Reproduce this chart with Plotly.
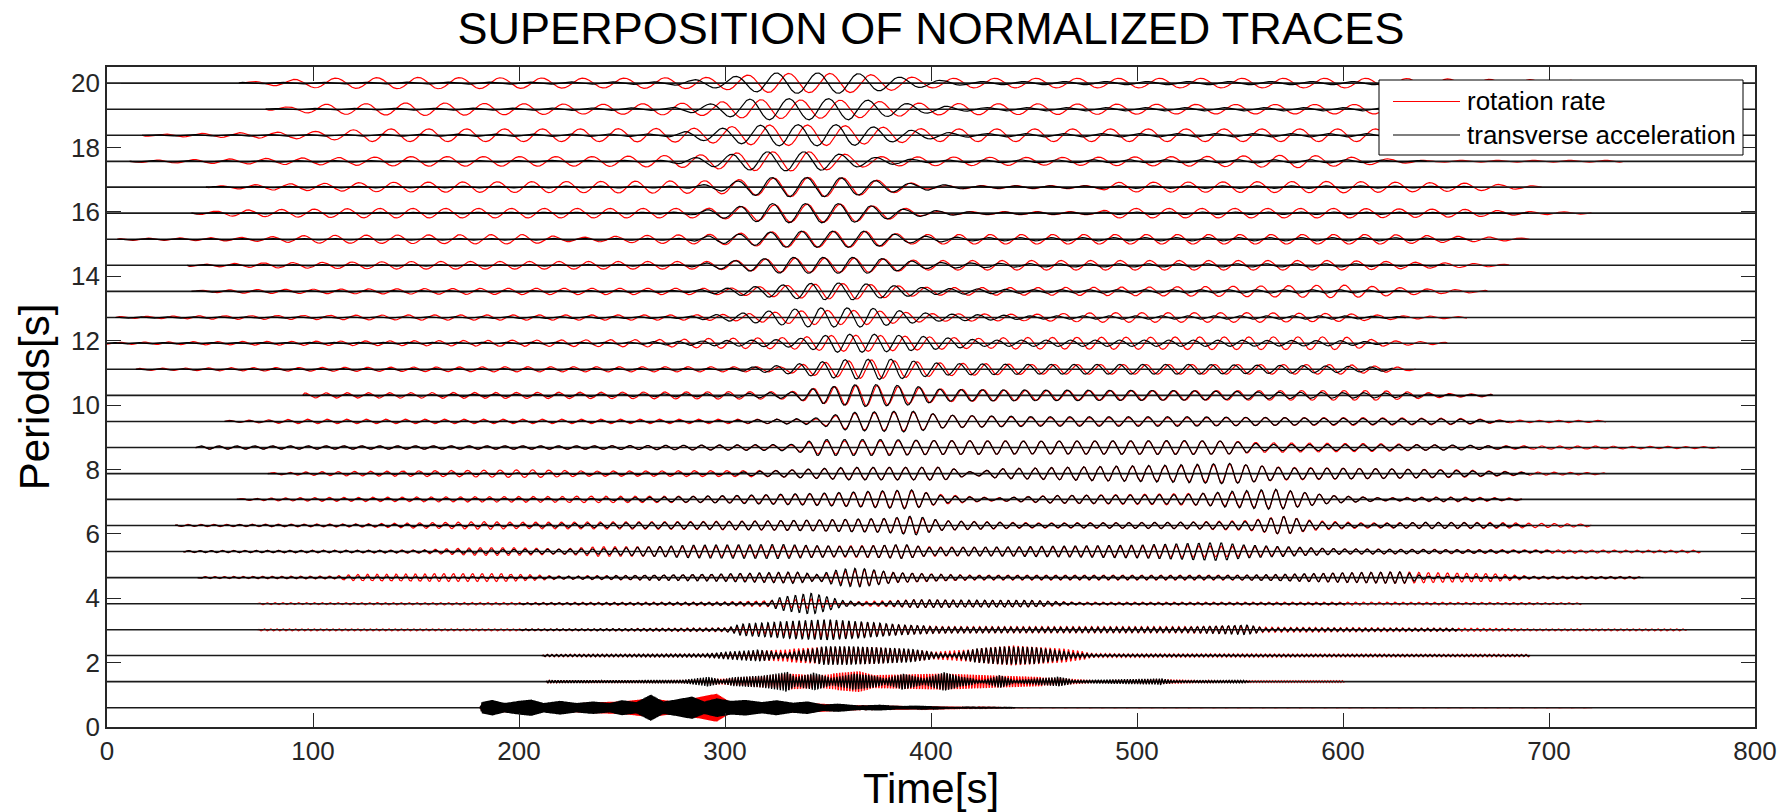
import numpy as np
import plotly.graph_objects as go

# ---------------- data ----------------
periods = [0.6, 1.41, 2.22, 3.02, 3.83, 4.64, 5.45, 6.26, 7.07, 7.87, 8.68, 9.49,
           10.3, 11.11, 11.92, 12.72, 13.53, 14.34, 15.15, 15.96, 16.77, 17.57,
           18.38, 19.19, 20.0]

# envelope key points of each normalized trace: (time [s], half amplitude [y units])
rotation_env = [
    [(181, 0), (182, 0.12), (200, 0.15), (220, 0.12), (240, 0.18), (250, 0.2), (264, 0.3), (275, 0.2), (284, 0.3), (296, 0.45), (302, 0.2), (320, 0.15), (340, 0.15), (360, 0.08), (400, 0.04), (420, 0.02), (440, 0.005), (720, 0.005), (721, 0)],
    [(213, 0), (214, 0.04), (280, 0.05), (300, 0.1), (330, 0.25), (343, 0.2), (365, 0.33), (372, 0.2), (386, 0.22), (406, 0.25), (433, 0.18), (461, 0.12), (480, 0.04), (511, 0.08), (540, 0.03), (600, 0.03), (601, 0)],
    [(211, 0), (212, 0.04), (290, 0.05), (315, 0.15), (348, 0.25), (372, 0.25), (401, 0.12), (420, 0.2), (440, 0.3), (465, 0.2), (480, 0.06), (600, 0.05), (690, 0.04), (691, 0)],
    [(73, 0), (74, 0.03), (230, 0.03), (300, 0.06), (308, 0.1), (334, 0.2), (350, 0.25), (367, 0.22), (386, 0.15), (405, 0.1), (450, 0.1), (523, 0.1), (553, 0.12), (562, 0.08), (655, 0.05), (700, 0.03), (766, 0.03), (767, 0)],
    [(73, 0), (74, 0.03), (200, 0.04), (300, 0.06), (327, 0.1), (342, 0.15), (357, 0.05), (392, 0.12), (420, 0.1), (449, 0.1), (470, 0.05), (600, 0.05), (715, 0.03), (716, 0)],
    [(44, 0), (45, 0.03), (110, 0.05), (121, 0.1), (160, 0.12), (193, 0.12), (220, 0.05), (301, 0.1), (334, 0.15), (345, 0.08), (365, 0.25), (383, 0.15), (420, 0.08), (520, 0.08), (560, 0.08), (603, 0.15), (629, 0.18), (644, 0.15), (673, 0.12), (690, 0.05), (742, 0.04), (745, 0)],
    [(37, 0), (38, 0.03), (150, 0.05), (180, 0.12), (199, 0.12), (220, 0.08), (239, 0.15), (284, 0.15), (328, 0.15), (387, 0.2), (397, 0.15), (440, 0.12), (523, 0.18), (553, 0.15), (600, 0.08), (700, 0.05), (773, 0.04), (774, 0)],
    [(33, 0), (34, 0.03), (120, 0.05), (185, 0.12), (200, 0.1), (276, 0.12), (330, 0.15), (378, 0.2), (390, 0.25), (405, 0.15), (450, 0.08), (520, 0.1), (553, 0.15), (571, 0.28), (586, 0.15), (610, 0.08), (665, 0.1), (720, 0.04), (721, 0)],
    [(63, 0), (64, 0.03), (105, 0.06), (236, 0.1), (303, 0.1), (350, 0.18), (390, 0.28), (405, 0.15), (430, 0.05), (461, 0.12), (523, 0.18), (545, 0.2), (568, 0.3), (594, 0.12), (620, 0.05), (650, 0.08), (686, 0.04), (687, 0)],
    [(78, 0), (79, 0.03), (102, 0.06), (207, 0.12), (236, 0.08), (326, 0.1), (360, 0.18), (406, 0.2), (420, 0.05), (433, 0.15), (480, 0.22), (523, 0.25), (545, 0.3), (571, 0.2), (620, 0.15), (655, 0.12), (690, 0.05), (727, 0.03), (728, 0)],
    [(43, 0), (44, 0.04), (236, 0.05), (332, 0.08), (345, 0.2), (400, 0.22), (450, 0.2), (523, 0.2), (545, 0.2), (562, 0.15), (620, 0.12), (655, 0.06), (782, 0.03), (783, 0)],
    [(57, 0), (58, 0.03), (95, 0.07), (236, 0.07), (343, 0.07), (360, 0.25), (390, 0.3), (406, 0.2), (450, 0.12), (523, 0.12), (600, 0.12), (655, 0.1), (680, 0.04), (727, 0.03), (728, 0)],
    [(95, 0), (96, 0.08), (236, 0.1), (332, 0.12), (347, 0.25), (367, 0.33), (406, 0.2), (450, 0.15), (523, 0.15), (570, 0.15), (618, 0.15), (650, 0.06), (672, 0.04), (673, 0)],
    [(14, 0), (15, 0.03), (60, 0.05), (200, 0.08), (327, 0.08), (345, 0.2), (370, 0.3), (406, 0.2), (450, 0.15), (529, 0.15), (600, 0.15), (624, 0.08), (635, 0.03), (636, 0)],
    [(0, 0.03), (50, 0.05), (150, 0.08), (276, 0.12), (290, 0.15), (332, 0.18), (354, 0.25), (373, 0.25), (425, 0.15), (440, 0.18), (560, 0.2), (600, 0.2), (621, 0.08), (650, 0.03), (651, 0)],
    [(4, 0), (5, 0.03), (42, 0.05), (150, 0.08), (280, 0.08), (304, 0.1), (341, 0.22), (369, 0.22), (401, 0.12), (450, 0.1), (480, 0.15), (560, 0.15), (600, 0.12), (630, 0.05), (660, 0.03), (661, 0)],
    [(41, 0), (42, 0.03), (70, 0.06), (200, 0.1), (301, 0.1), (341, 0.22), (360, 0.25), (401, 0.12), (450, 0.12), (529, 0.15), (600, 0.2), (641, 0.08), (670, 0.03), (671, 0)],
    [(39, 0), (40, 0.03), (78, 0.08), (150, 0.12), (295, 0.12), (328, 0.22), (369, 0.22), (397, 0.15), (529, 0.15), (600, 0.15), (649, 0.08), (680, 0.03), (681, 0)],
    [(5, 0), (6, 0.03), (71, 0.06), (100, 0.12), (200, 0.15), (230, 0.06), (260, 0.12), (291, 0.15), (330, 0.25), (370, 0.25), (388, 0.15), (529, 0.15), (620, 0.15), (663, 0.08), (690, 0.03), (691, 0)],
    [(41, 0), (42, 0.03), (63, 0.1), (130, 0.15), (239, 0.15), (291, 0.15), (330, 0.28), (360, 0.28), (388, 0.15), (400, 0.05), (480, 0.05), (490, 0.15), (600, 0.15), (660, 0.12), (690, 0.05), (720, 0.03), (721, 0)],
    [(48, 0), (49, 0.03), (85, 0.1), (135, 0.15), (239, 0.18), (295, 0.2), (330, 0.3), (355, 0.3), (388, 0.15), (400, 0.05), (480, 0.05), (490, 0.15), (600, 0.18), (663, 0.12), (696, 0.03), (697, 0)],
    [(11, 0), (12, 0.03), (87, 0.1), (150, 0.15), (239, 0.15), (286, 0.2), (317, 0.3), (343, 0.3), (373, 0.15), (450, 0.12), (529, 0.15), (580, 0.2), (607, 0.12), (640, 0.03), (735, 0.03), (736, 0)],
    [(17, 0), (18, 0.03), (102, 0.12), (130, 0.2), (239, 0.2), (286, 0.22), (320, 0.32), (350, 0.32), (397, 0.2), (529, 0.2), (620, 0.2), (700, 0.1), (760, 0.03), (761, 0)],
    [(77, 0), (78, 0.03), (104, 0.15), (150, 0.2), (239, 0.15), (291, 0.2), (314, 0.3), (360, 0.28), (399, 0.18), (529, 0.15), (620, 0.15), (700, 0.1), (760, 0.03), (761, 0)],
    [(64, 0), (65, 0.03), (102, 0.15), (150, 0.18), (239, 0.15), (295, 0.18), (323, 0.3), (360, 0.3), (401, 0.15), (529, 0.15), (620, 0.15), (700, 0.1), (760, 0.03), (761, 0)],
]

acceleration_env = [
    [(181, 0), (182, 0.18), (187, 0.25), (193, 0.15), (200, 0.22), (206, 0.26), (212, 0.15), (220, 0.22), (228, 0.15), (236, 0.2), (244, 0.15), (250, 0.24), (257, 0.18), (264, 0.42), (270, 0.2), (276, 0.26), (284, 0.36), (290, 0.2), (296, 0.3), (303, 0.22), (310, 0.25), (318, 0.18), (325, 0.24), (333, 0.16), (340, 0.2), (348, 0.1), (355, 0.13), (365, 0.07), (375, 0.09), (385, 0.05), (395, 0.06), (410, 0.02), (440, 0.01), (441, 0)],
    [(213, 0), (214, 0.05), (240, 0.04), (280, 0.06), (291, 0.15), (298, 0.06), (304, 0.15), (318, 0.2), (330, 0.32), (334, 0.15), (343, 0.28), (351, 0.12), (362, 0.25), (372, 0.18), (377, 0.1), (386, 0.25), (396, 0.1), (406, 0.3), (414, 0.15), (425, 0.05), (433, 0.2), (440, 0.05), (461, 0.15), (470, 0.05), (511, 0.1), (520, 0.03), (552, 0.04), (555, 0)],
    [(211, 0), (212, 0.03), (290, 0.05), (300, 0.12), (315, 0.18), (329, 0.08), (335, 0.15), (348, 0.28), (360, 0.28), (372, 0.25), (390, 0.2), (401, 0.1), (410, 0.05), (420, 0.2), (435, 0.27), (450, 0.25), (468, 0.1), (480, 0.04), (550, 0.03), (690, 0.02), (691, 0)],
    [(200, 0), (201, 0.02), (300, 0.05), (308, 0.18), (320, 0.22), (334, 0.28), (350, 0.32), (367, 0.25), (386, 0.15), (405, 0.1), (450, 0.08), (523, 0.08), (553, 0.15), (562, 0.05), (655, 0.04), (656, 0)],
    [(200, 0), (201, 0.02), (320, 0.05), (327, 0.2), (342, 0.33), (357, 0.1), (370, 0.03), (392, 0.12), (449, 0.1), (470, 0.03), (600, 0.02), (601, 0)],
    [(44, 0), (45, 0.02), (200, 0.03), (250, 0.06), (301, 0.12), (334, 0.18), (345, 0.1), (355, 0.25), (365, 0.3), (383, 0.15), (420, 0.06), (540, 0.06), (603, 0.15), (629, 0.18), (640, 0.04), (745, 0.02), (746, 0)],
    [(37, 0), (38, 0.03), (150, 0.04), (239, 0.08), (284, 0.2), (328, 0.22), (360, 0.15), (387, 0.22), (400, 0.12), (440, 0.15), (500, 0.2), (540, 0.28), (553, 0.2), (600, 0.08), (700, 0.03), (701, 0)],
    [(33, 0), (34, 0.02), (200, 0.04), (276, 0.1), (330, 0.15), (378, 0.22), (392, 0.3), (405, 0.15), (450, 0.06), (553, 0.12), (571, 0.28), (586, 0.12), (610, 0.05), (640, 0.1), (665, 0.08), (690, 0.02), (691, 0)],
    [(63, 0), (64, 0.02), (236, 0.03), (303, 0.12), (350, 0.2), (390, 0.3), (405, 0.12), (430, 0.04), (461, 0.12), (523, 0.15), (545, 0.25), (568, 0.32), (594, 0.12), (620, 0.04), (650, 0.06), (686, 0.02), (687, 0)],
    [(78, 0), (79, 0.02), (300, 0.03), (326, 0.1), (360, 0.2), (406, 0.2), (420, 0.05), (433, 0.15), (480, 0.22), (523, 0.28), (545, 0.32), (571, 0.18), (620, 0.15), (655, 0.1), (690, 0.03), (691, 0)],
    [(43, 0), (44, 0.05), (236, 0.05), (332, 0.1), (345, 0.25), (380, 0.25), (400, 0.22), (450, 0.2), (523, 0.22), (545, 0.2), (562, 0.1), (655, 0.08), (690, 0.02), (691, 0)],
    [(57, 0), (58, 0.02), (300, 0.03), (343, 0.1), (360, 0.28), (390, 0.33), (406, 0.2), (450, 0.15), (523, 0.15), (600, 0.1), (655, 0.08), (680, 0.02), (681, 0)],
    [(95, 0), (96, 0.02), (300, 0.05), (332, 0.1), (347, 0.25), (367, 0.35), (390, 0.3), (406, 0.18), (523, 0.15), (570, 0.1), (618, 0.08), (650, 0.03), (672, 0.02), (673, 0)],
    [(14, 0), (15, 0.02), (300, 0.03), (327, 0.12), (358, 0.3), (380, 0.32), (406, 0.18), (450, 0.15), (529, 0.15), (600, 0.1), (624, 0.05), (625, 0)],
    [(0, 0.02), (250, 0.03), (332, 0.12), (354, 0.28), (373, 0.28), (400, 0.2), (425, 0.1), (529, 0.1), (600, 0.08), (621, 0.03), (622, 0)],
    [(4, 0), (5, 0.02), (280, 0.03), (304, 0.12), (341, 0.3), (369, 0.3), (401, 0.12), (450, 0.05), (529, 0.05), (600, 0.05), (630, 0.02), (631, 0)],
    [(41, 0), (42, 0.02), (280, 0.03), (301, 0.1), (341, 0.25), (360, 0.27), (401, 0.1), (450, 0.05), (600, 0.05), (641, 0.02), (642, 0)],
    [(39, 0), (40, 0.02), (280, 0.03), (295, 0.1), (328, 0.25), (369, 0.25), (397, 0.1), (450, 0.05), (600, 0.05), (649, 0.02), (650, 0)],
    [(5, 0), (6, 0.02), (280, 0.03), (291, 0.1), (330, 0.25), (370, 0.25), (388, 0.12), (420, 0.05), (620, 0.05), (663, 0.02), (664, 0)],
    [(41, 0), (42, 0.02), (280, 0.03), (291, 0.1), (320, 0.3), (360, 0.3), (388, 0.12), (420, 0.04), (600, 0.04), (690, 0.02), (691, 0)],
    [(48, 0), (49, 0.02), (280, 0.03), (295, 0.1), (320, 0.3), (355, 0.3), (388, 0.12), (420, 0.04), (600, 0.04), (663, 0.02), (664, 0)],
    [(11, 0), (12, 0.02), (270, 0.03), (286, 0.12), (317, 0.3), (343, 0.3), (373, 0.12), (400, 0.04), (600, 0.05), (640, 0.02), (641, 0)],
    [(17, 0), (18, 0.02), (270, 0.04), (286, 0.15), (320, 0.33), (360, 0.33), (397, 0.12), (420, 0.05), (620, 0.05), (700, 0.02), (701, 0)],
    [(77, 0), (78, 0.02), (270, 0.04), (291, 0.15), (314, 0.33), (360, 0.33), (399, 0.12), (420, 0.05), (620, 0.05), (700, 0.02), (701, 0)],
    [(64, 0), (65, 0.02), (270, 0.04), (295, 0.15), (323, 0.32), (360, 0.32), (401, 0.1), (420, 0.05), (620, 0.05), (700, 0.02), (701, 0)],
]

# lag of the rotation-rate trace behind the acceleration trace (fraction of a period)
rotation_lag = [0, 0, 0, 0, 0, 0, 0, 0, 0, 0, 0, 0, 0.05, 0.15, 0.25, 0.25, 0.15,
                0.05, 0.05, 0.05, 0.05, 0.15, 0.25, 0.3, 0.3]

x_ticks = [0, 100, 200, 300, 400, 500, 600, 700, 800]
y_ticks = [0, 2, 4, 6, 8, 10, 12, 14, 16, 18, 20]
series_names = ["rotation rate", "transverse acceleration"]
series_colors = ["#ff0000", "#000000"]
title_text = "SUPERPOSITION OF NORMALIZED TRACES"


# ---------------- build the traces ----------------
def band_signal(period, env, lag):
    tk = np.array([p[0] for p in env], dtype=float)
    ak = np.array([p[1] for p in env], dtype=float)
    per = 12 if period >= 2 else 8
    t = np.arange(tk[0], tk[-1] + 1e-9, period / per)
    amp = np.interp(t, tk, ak)
    return t, period + amp * np.sin(2 * np.pi * (t / period - lag))


def stack(envs, lags):
    xs, ys = [], []
    for P, env, lag in zip(periods, envs, lags):
        t, y = band_signal(P, env, lag)
        xs += [t, [np.nan]]
        ys += [y, [np.nan]]
    return np.concatenate(xs), np.concatenate(ys)


rx, ry = stack(rotation_env, rotation_lag)
ax_, ay_ = stack(acceleration_env, [0] * len(periods))

bx, by = [], []
for P in periods:
    bx += [x_ticks[0], x_ticks[-1], None]
    by += [P, P, None]

fig = go.Figure()
fig.add_trace(go.Scatter(x=rx, y=ry, mode="lines", name=series_names[0],
                         line=dict(color=series_colors[0], width=1.2), showlegend=False))
fig.add_trace(go.Scatter(x=bx, y=by, mode="lines", line=dict(color="#1a1a1a", width=1.6),
                         showlegend=False, hoverinfo="skip"))
fig.add_trace(go.Scatter(x=ax_, y=ay_, mode="lines", name=series_names[1],
                         line=dict(color=series_colors[1], width=1.2), showlegend=False))

font_family = "Liberation Sans, Arial, Helvetica, sans-serif"
axis_common = dict(
    showgrid=False, zeroline=False, showline=True, linecolor="#262626", linewidth=1.6,
    mirror="ticks", ticks="inside", ticklen=14, tickwidth=1.4, tickcolor="#262626",
    tickfont=dict(family=font_family, size=26, color="#262626"),
)

# plot-area geometry (px) used to place the boxed legend
L, R, T, B = 107, 35, 67, 85
W, H = 1790, 812
pw, ph = W - L - R, H - T - B


def px_x(px):
    return (px - L) / pw


def px_y(py):
    return (H - B - py) / ph


shapes = [dict(type="rect", xref="paper", yref="paper", x0=px_x(1379), x1=px_x(1743),
               y0=px_y(155), y1=px_y(80), line=dict(color="#000000", width=1),
               fillcolor="white", layer="above")]
annotations = []
for k, (name, col) in enumerate(zip(series_names, series_colors)):
    yy = px_y(101.5 + 33.5 * k)
    shapes.append(dict(type="line", xref="paper", yref="paper", x0=px_x(1393), x1=px_x(1460),
                       y0=yy, y1=yy, line=dict(color=col, width=1.2), layer="above"))
    annotations.append(dict(text=name, xref="paper", yref="paper", x=px_x(1465), y=yy,
                            xanchor="left", yanchor="middle", showarrow=False,
                            font=dict(family=font_family, size=26, color="#000000")))

fig.update_layout(
    width=W, height=H,
    margin=dict(l=L, r=R, t=T, b=B),
    paper_bgcolor="white", plot_bgcolor="white",
    font=dict(family=font_family, color="#000000"),
    title=dict(text=title_text, x=0.5, xref="paper", xanchor="center",
               y=1 - 28 / H, yref="container", yanchor="middle",
               font=dict(family=font_family, size=45, color="#000000")),
    xaxis=dict(range=[0, 800], tickvals=x_ticks,
               title=dict(text="Time[s]", font=dict(family=font_family, size=42, color="#000000"), standoff=6),
               **axis_common),
    yaxis=dict(range=[0, 20.5], tickvals=y_ticks,
               title=dict(text="Periods[s]", font=dict(family=font_family, size=42, color="#000000"), standoff=8),
               **axis_common),
    shapes=shapes,
    annotations=annotations,
    showlegend=False,
)

fig.write_html("out.html")
